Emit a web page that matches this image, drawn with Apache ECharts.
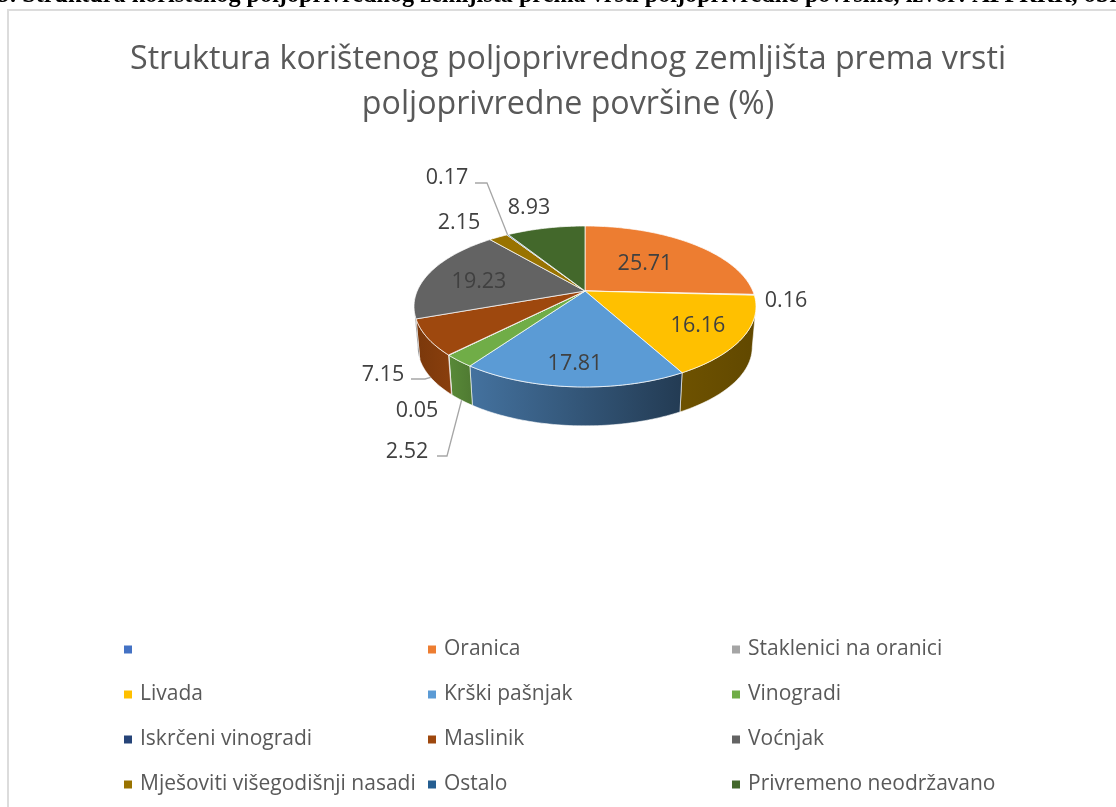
<!DOCTYPE html>
<html><head><meta charset="utf-8">
<style>html,body{margin:0;padding:0;background:#fff;overflow:hidden}#c{width:1116px;height:807px}</style>
<script src="https://cdn.jsdelivr.net/npm/echarts@6/dist/echarts.min.js"></script>
</head><body><div id="c"></div>
<script>
const categories = [' ', 'Oranica', 'Staklenici na oranici', 'Livada', 'Krški pašnjak', 'Vinogradi', 'Iskrčeni vinogradi', 'Maslinik', 'Voćnjak', 'Mješoviti višegodišnji nasadi', 'Ostalo', 'Privremeno neodržavano'];
const shares = [0, 25.71, 0.16, 16.16, 17.81, 2.52, 0.05, 7.15, 19.23, 2.15, 0.17, 8.93];
const valueLabels = ['', '25.71', '0.16', '16.16', '17.81', '2.52', '0.05', '7.15', '19.23', '2.15', '0.17', '8.93'];
const topColors = ['#4472C4', '#ED7D31', '#A5A5A5', '#FFC000', '#5B9BD5', '#70AD47', '#264478', '#9E480E', '#636363', '#997300', '#255E91', '#43682B'];
const wallColors = [['#2b4a80', '#2b4a80'], ['#8e4b1d', '#8e4b1d'], ['#636363', '#636363'], ['#6e5200', '#614800'], ['#44729f', '#233b53'], ['#598a38', '#4f7a32'], ['#182a4b', '#182a4b'], ['#7a380b', '#8a3f0d'], ['#3b3b3b', '#3b3b3b'], ['#5c4500', '#5c4500'], ['#16385a', '#16385a'], ['#28401a', '#28401a']];

// layout only
const pie = { cx: 585, cy: 291, A: 77.5, B: 167.8, k: 0.1925, depth: 41, bottomScale: 0.978 };
const labelCenters = { 1: [645, 264], 2: [786, 301], 3: [698, 326], 4: [575, 364], 5: [407, 452], 6: [417, 411], 7: [383, 375], 8: [479, 282], 9: [459, 223], 10: [447, 178], 11: [529, 208] };
const leaders = { 5: [[437, 456], [447, 456]], 7: [[411, 379], [425, 379]], 10: [[475, 183], [487, 183]] };
const FONT = '"Open Sans"';

const total = shares.reduce((a, b) => a + b, 0);
const toAngle = p => p / total * Math.PI * 2;
function project(t, bottom) {
  const u = Math.sin(t), v = Math.cos(t), w = 1 / (1 + pie.k * v);
  const s = bottom ? pie.bottomScale : 1;
  return [pie.cx + pie.B * u * w * s, pie.cy - pie.A * v * w * s + (bottom ? pie.depth : 0)];
}
function arc(t0, t1, bottom) {
  const n = Math.max(2, Math.ceil((t1 - t0) / 0.02)), pts = [];
  for (let i = 0; i <= n; i++) pts.push(project(t0 + (t1 - t0) * i / n, bottom));
  return pts;
}
const visFrom = Math.acos(-pie.k), visTo = 2 * Math.PI - visFrom;

function makeRender(idx) {
  return function (params, api) {
    const value = api.value(0);
    let before = 0;
    for (let i = 0; i < idx; i++) before += shares[i];
    const t0 = toAngle(before), t1 = toAngle(before + value), mid = (t0 + t1) / 2;
    const children = [];
    if (value > 0) {
      const a = Math.max(t0, visFrom), b = Math.min(t1, visTo);
      if (b > a) {
        const pts = arc(a, b, false).concat(arc(a, b, true).reverse());
        children.push({
          type: 'polygon', z2: 1, shape: { points: pts },
          style: {
            fill: new echarts.graphic.LinearGradient(0, 0, 1, 0, [{ offset: 0, color: wallColors[idx][0] }, { offset: 1, color: wallColors[idx][1] }]),
            stroke: 'rgba(255,255,255,0.75)', lineWidth: 0.8
          }
        });
      }
      children.push({
        type: 'polygon', z2: 2, shape: { points: [[pie.cx, pie.cy]].concat(arc(t0, t1, false)) },
        style: { fill: api.visual('color'), stroke: 'rgba(255,255,255,0.8)', lineWidth: 0.9 }
      });
    }
    if (leaders[idx]) {
      const end = project(mid, idx !== 10);
      children.push({
        type: 'polyline', z2: 3, shape: { points: leaders[idx].concat([end]) },
        style: { stroke: '#a6a6a6', lineWidth: 1.3, fill: null }
      });
    }
    if (labelCenters[idx]) {
      children.push({
        type: 'text', z2: 4, x: labelCenters[idx][0], y: labelCenters[idx][1],
        style: { text: valueLabels[idx], fill: '#404040', font: '21.5px ' + FONT, align: 'center', verticalAlign: 'middle' }
      });
    }
    return { type: 'group', children };
  };
}

const series = categories.map((name, i) => ({
  type: 'custom', name, coordinateSystem: 'none', silent: true, animation: false,
  renderItem: makeRender(i), data: [[shares[i]]],
  itemStyle: { color: topColors[i] }, z: 2
}));

const legendText = { color: '#595959', fontSize: 21, fontFamily: FONT, padding: [0, 0, 0, 3] };
const legendBase = { orient: 'vertical', top: 639, itemWidth: 8, itemHeight: 8, itemGap: 24, icon: 'rect', textStyle: legendText, selectedMode: false, padding: 0, inactiveColor: '#595959' };
const col = n => categories.filter((c, i) => i % 3 === n);

const chart = echarts.init(document.getElementById('c'), null, { renderer: 'canvas' });
chart.setOption({
  animation: false, backgroundColor: '#fff',
  title: {
    text: 'Struktura korištenog poljoprivrednog zemljišta prema vrsti\npoljoprivredne površine (%)',
    left: 563, top: 32, textAlign: 'center',
    textStyle: { fontFamily: FONT, fontWeight: 'normal', fontSize: 32.2, color: '#595959', lineHeight: 45 }
  },
  legend: [
    Object.assign({ left: 124, data: col(0) }, legendBase),
    Object.assign({ left: 428, data: col(1) }, legendBase),
    Object.assign({ left: 732, data: col(2) }, legendBase)
  ],
  graphic: [
    { type: 'rect', z: -1, shape: { x: 8, y: 10, width: 1200, height: 900 }, style: { fill: '#fff', stroke: '#dcdcdc', lineWidth: 2 } },
    { type: 'text', z: 5, x: -2, y: -16, style: { text: '9. Struktura korištenog poljoprivrednog zemljišta prema vrsti poljoprivredne površine, izvor: APPRRR, obrada autora', fill: '#000', font: 'bold 24.2px "Liberation Serif"' } }
  ],
  series
});
</script></body></html>
